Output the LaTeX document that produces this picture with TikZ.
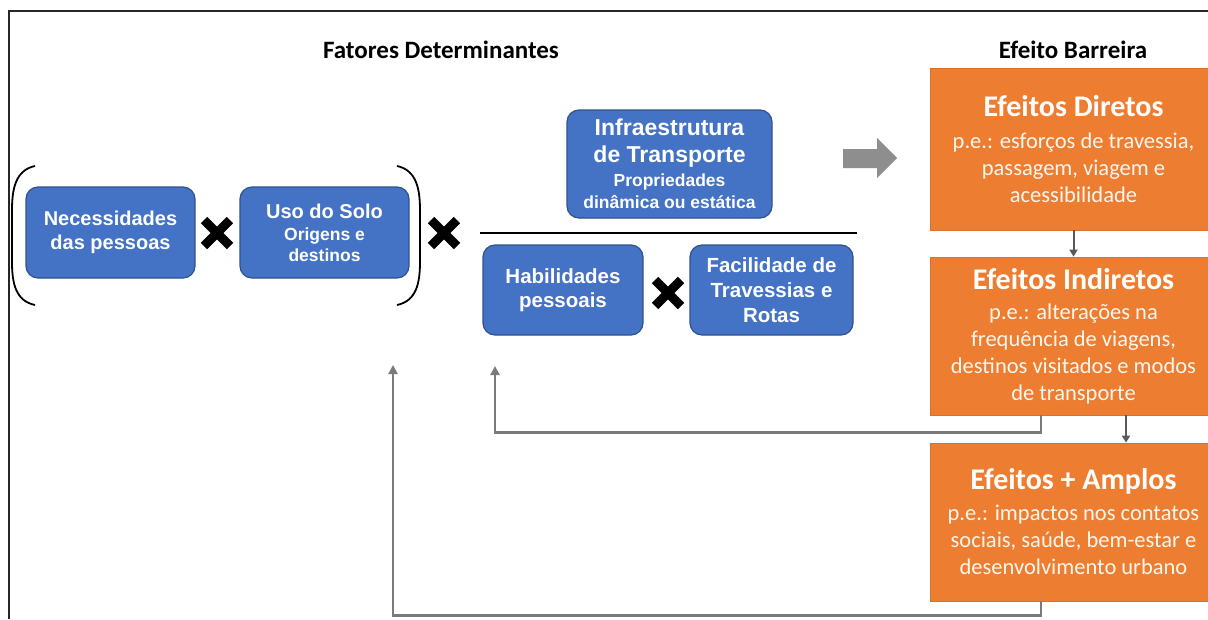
\documentclass[tikz,border=0pt]{standalone}
\usepackage{fontspec}
\setmainfont{Carlito}
\newfontfamily\arialf{Liberation Sans}
\usetikzlibrary{arrows.meta,calc}
\definecolor{boxblue}{HTML}{4472C4}
\definecolor{boxblueline}{HTML}{2F528F}
\definecolor{boxorange}{HTML}{ED7D31}
\definecolor{orangeline}{HTML}{D9702C}
\definecolor{arrowgray}{HTML}{7A7A7A}
\definecolor{blockgray}{HTML}{8E8E8E}
\definecolor{darkgraytwo}{HTML}{595959}
\definecolor{creamtext}{HTML}{FFF6EE}
\newcommand{\bigttl}[1]{{\fontsize{30}{30}\selectfont\bfseries\color{white}#1}}
\newcommand{\bluebig}[1]{{\fontsize{20}{23}\selectfont #1}}
\newcommand{\infrabig}[1]{{\fontsize{23}{24}\selectfont #1}}
\begin{document}
\begin{tikzpicture}[x=1pt,y=-1pt,
 bluebox/.style={draw=boxblueline, line width=1.2pt, fill=boxblue, rounded corners=12pt, text=white, align=center, inner sep=0pt},
 orangebox/.style={draw=orangeline, line width=0.8pt, fill=boxorange, text=creamtext, align=center, inner sep=0pt, minimum width=287pt, font=\fontsize{22.5}{27}\selectfont},
 heading/.style={font=\fontsize{25}{28}\selectfont\bfseries, text=black, inner sep=0pt},
 feedback/.style={draw=arrowgray, line width=2.6pt, -{Triangle[width=9pt,length=9pt]}},
 smallarrow/.style={draw=darkgraytwo, line width=2pt, -{Triangle[width=8pt,length=7pt]}},
 cross/.style={line width=9pt, black},
 bracket/.style={line width=1.8pt, black}
]
\useasboundingbox (0,0) rectangle (1208,619);
\fill[white] (0,0) rectangle (1208,619);
\draw[line width=1.5pt, black!85] (9,619) -- (9,11) -- (1208,11);

% headings
\node[heading] (fat) at (441,50) {Fatores Determinantes};
\node[heading] (eb) at (1073,50) {Efeito Barreira};

% blue boxes
\node[bluebox, minimum width=169pt, minimum height=91pt, font=\arialf\bfseries\fontsize{20}{23.5}\selectfont] (need) at (110.5,232.5)
  {Necessidades\\das pessoas};
\node[bluebox, minimum width=169pt, minimum height=91pt, font=\arialf\bfseries\fontsize{17.5}{20.5}\selectfont] (uso) at (324.5,232.5)
  {\bluebig{Uso do Solo}\\[2pt]Origens e\\destinos};
\node[bluebox, minimum width=205pt, minimum height=108pt, font=\arialf\bfseries\fontsize{17.5}{22}\selectfont] (infra) at (669.5,164)
  {\infrabig{Infraestrutura}\\[5pt]\infrabig{de Transporte}\\[2pt]Propriedades\\dinâmica ou estática};
\node[bluebox, minimum width=160pt, minimum height=90pt, font=\arialf\bfseries\fontsize{20.5}{24}\selectfont] (hab) at (563,290)
  {Habilidades\\pessoais};
\node[bluebox, minimum width=163pt, minimum height=90pt, font=\arialf\bfseries\fontsize{20.5}{25}\selectfont] (fac) at (771.5,290)
  {Facilidade de\\Travessias e\\Rotas};

% brackets
\draw[bracket] (35,166) .. controls (16,170) and (12,188) .. (12,210) -- (12,262)
  .. controls (12,284) and (16,301) .. (35,305);
\draw[bracket] (397,166) .. controls (416,170) and (420,188) .. (420,210) -- (420,262)
  .. controls (420,284) and (416,301) .. (397,305);

% crosses
\foreach \cx/\cy in {217/233, 444/233, 668/293}{
  \draw[cross] (\cx-13,\cy-13) -- (\cx+13,\cy+13);
  \draw[cross] (\cx-13,\cy+13) -- (\cx+13,\cy-13);
}

% fraction line
\draw[line width=1.8pt] (480,233) -- (857,233);

% block arrow
\fill[blockgray] (843,149) -- (877,149) -- (877,138) -- (897,158) -- (877,178) -- (877,168) -- (843,168) -- cycle;

% orange boxes
\node[orangebox, minimum height=162pt] (dir) at (1073.5,149)
  {\bigttl{Efeitos Diretos}\\[5pt]p.e.: esforços de travessia,\\passagem, viagem e\\acessibilidade};
\node[orangebox, minimum height=158pt] (ind) at (1073.5,336)
  {\bigttl{Efeitos Indiretos}\\[3pt]p.e.: alterações na\\frequência de viagens,\\destinos visitados e modos\\de transporte};
\node[orangebox, minimum height=158pt] (amp) at (1073.5,522)
  {\bigttl{Efeitos + Amplos}\\[4pt]p.e.: impactos nos contatos\\sociais, saúde, bem-estar e\\desenvolvimento urbano};

% arrows between effects
\coordinate (xa) at (1126,0);
\draw[smallarrow] (dir.south) -- (ind.north);
\draw[smallarrow] (ind.south -| xa) -- (amp.north -| xa);

% feedback arrows
\coordinate (xb) at (1041,0);
\coordinate (fbone) at (495,366);
\coordinate (fbtwo) at (393,365);
\draw[feedback] (ind.south -| xb) -- ++(0,17) -| (fbone);
\draw[feedback] (amp.south -| xb) -- ++(0,14) -| (fbtwo);
\end{tikzpicture}
\end{document}
